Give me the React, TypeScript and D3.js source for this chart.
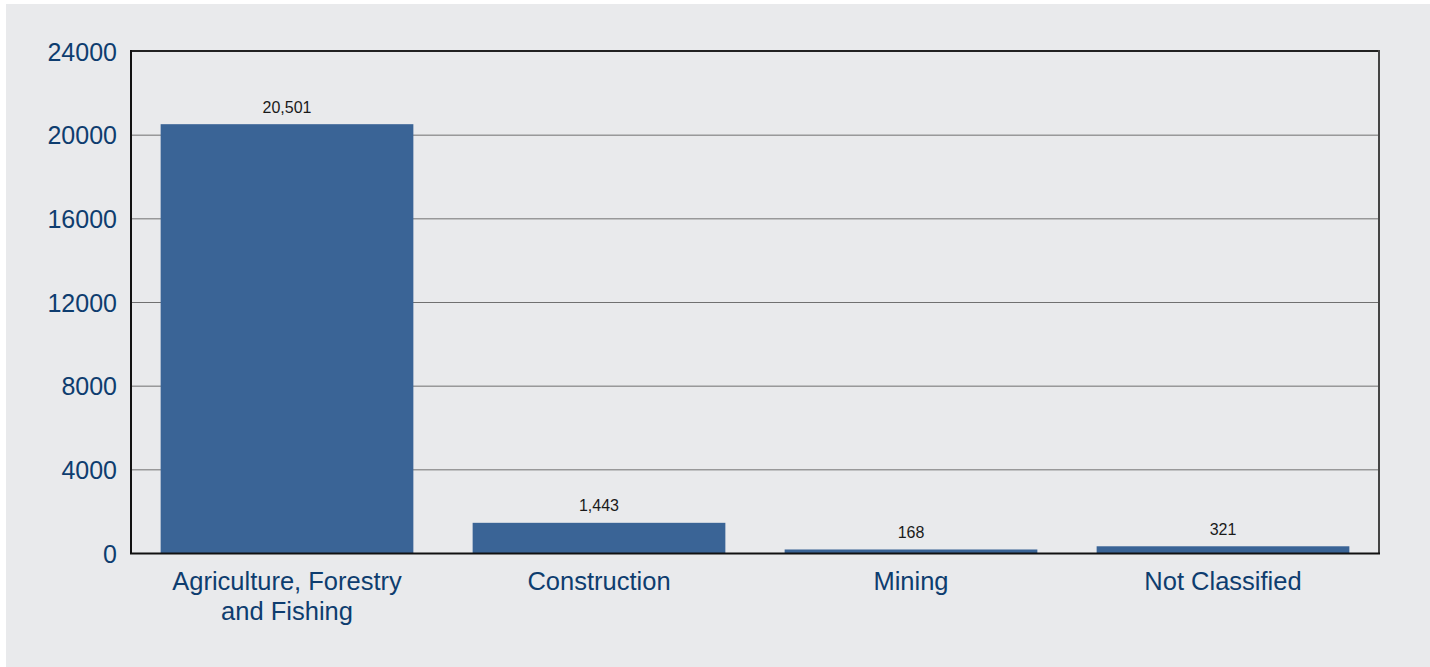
import React, { useEffect, useRef } from "react";
import * as d3 from "d3";

const categories = [
  ["Agriculture, Forestry", "and Fishing"],
  ["Construction"],
  ["Mining"],
  ["Not Classified"],
];
const values = [20501, 1443, 168, 321];
const yTicks = [0, 4000, 8000, 12000, 16000, 20000, 24000];

const W = 1430;
const H = 667;
const margin = { left: 131, right: 51, top: 51, bottom: 114 };
const FONT = "'Liberation Sans', Arial, sans-serif";

export default function App() {
  const svgRef = useRef<SVGSVGElement>(null);

  useEffect(() => {
    document.body.style.margin = "0";
    if (!svgRef.current) return;
    const svg = d3.select(svgRef.current);
    svg.selectAll("*").remove();

    const x0 = margin.left;
    const x1 = W - margin.right;
    const y0 = H - margin.bottom;
    const y1 = margin.top;

    // page background
    svg.append("rect").attr("width", W).attr("height", H).attr("fill", "#ffffff");
    svg.append("rect").attr("x", 6).attr("y", 4).attr("width", W - 6).attr("height", H - 4).attr("fill", "#e9eaec");

    const x = d3
      .scaleBand<number>()
      .domain(d3.range(values.length))
      .range([x0, x1])
      .paddingInner(0.19)
      .paddingOuter(0.095);

    const y = d3.scaleLinear().domain([0, 24000]).range([y0, y1]);

    // gridlines
    svg
      .append("g")
      .selectAll("line")
      .data(yTicks.filter((t) => t > 0 && t < 24000))
      .join("line")
      .attr("x1", x0)
      .attr("x2", x1)
      .attr("y1", (d) => y(d) + 0.5)
      .attr("y2", (d) => y(d) + 0.5)
      .attr("stroke", "#707070")
      .attr("stroke-width", 1);

    // bars
    svg
      .append("g")
      .selectAll("rect")
      .data(values)
      .join("rect")
      .attr("x", (_, i) => x(i)!)
      .attr("width", x.bandwidth())
      .attr("y", (d) => y(d))
      .attr("height", (d) => y0 - y(d))
      .attr("fill", "#3a6496");

    // value labels
    svg
      .append("g")
      .selectAll("text")
      .data(values)
      .join("text")
      .attr("x", (_, i) => x(i)! + x.bandwidth() / 2)
      .attr("y", (d) => y(d) - 11.5)
      .attr("text-anchor", "middle")
      .attr("font-family", FONT)
      .attr("font-size", 16)
      .attr("fill", "#1a1a1a")
      .text((d) => d3.format(",")(d));

    // frame
    svg.append("line").attr("x1", x0 - 1).attr("x2", x1).attr("y1", y1).attr("y2", y1).attr("stroke", "#222").attr("stroke-width", 2);
    svg.append("line").attr("x1", x0).attr("x2", x0).attr("y1", y1 - 1).attr("y2", y0 + 1).attr("stroke", "#111").attr("stroke-width", 2);
    svg.append("line").attr("x1", x1).attr("x2", x1).attr("y1", y1 - 1).attr("y2", y0 + 1).attr("stroke", "#444").attr("stroke-width", 2);
    svg.append("line").attr("x1", x0 - 1).attr("x2", x1 + 1).attr("y1", y0 + 0.5).attr("y2", y0 + 0.5).attr("stroke", "#111").attr("stroke-width", 2);

    // y tick labels
    svg
      .append("g")
      .selectAll("text")
      .data(yTicks)
      .join("text")
      .attr("x", x0 - 14)
      .attr("y", (d) => y(d) + 9.5)
      .attr("text-anchor", "end")
      .attr("font-family", FONT)
      .attr("font-size", 25)
      .attr("fill", "#0e3d6f")
      .text((d) => String(d));

    // category labels
    const cat = svg
      .append("g")
      .selectAll("text")
      .data(categories)
      .join("text")
      .attr("text-anchor", "middle")
      .attr("font-family", FONT)
      .attr("font-size", 25.5)
      .attr("fill", "#0e3d6f");
    cat.each(function (lines, i) {
      const t = d3.select(this);
      lines.forEach((l, j) => {
        t.append("tspan")
          .attr("x", x(i)! + x.bandwidth() / 2)
          .attr("y", 590 + j * 29.5)
          .text(l);
      });
    });
  }, []);

  return <svg ref={svgRef} width={W} height={H} style={{ display: "block" }} />;
}
